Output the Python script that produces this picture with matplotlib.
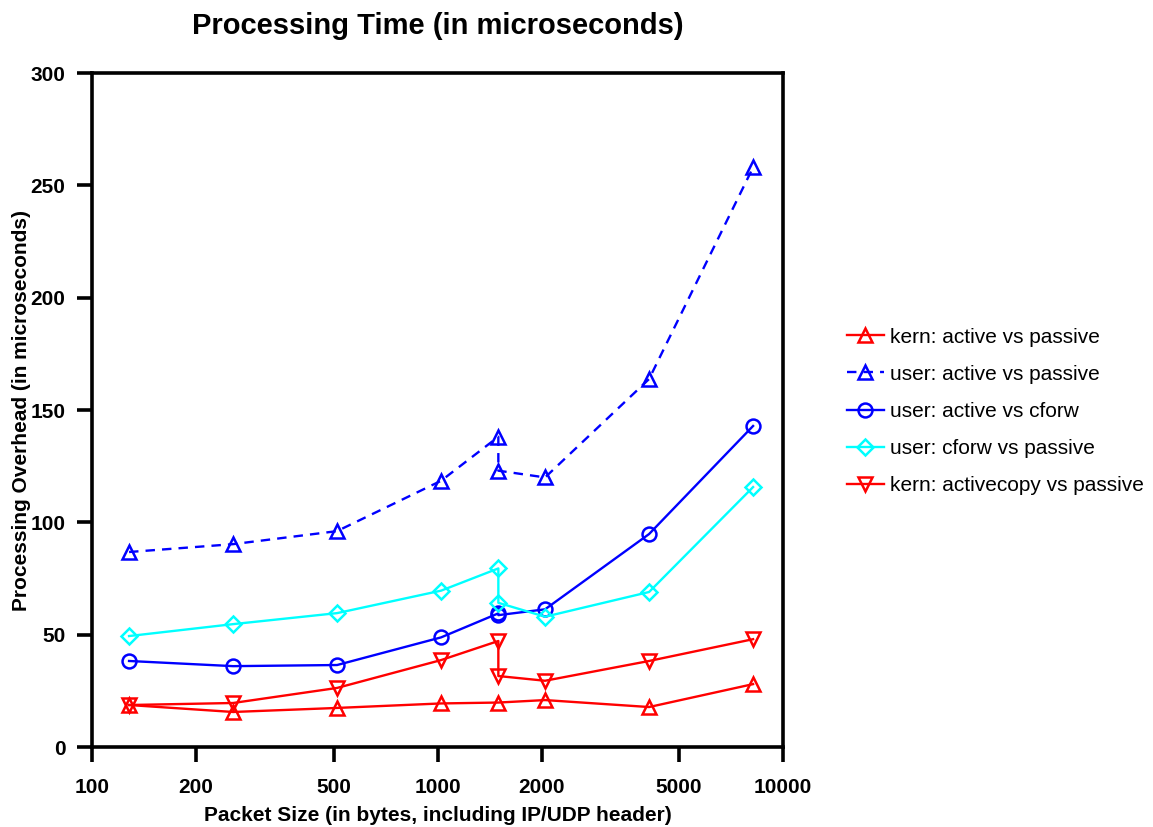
import matplotlib
matplotlib.use("Agg")
import matplotlib.pyplot as plt
from matplotlib.ticker import FixedLocator, FixedFormatter, NullLocator

plt.rcParams['font.family'] = ['Liberation Sans', 'DejaVu Sans']

# packet sizes (bytes); 1500 appears twice in each run
sizes = [128, 256, 512, 1024, 1500, 1500, 2048, 4096, 8192]
sizes_kern = [128, 256, 512, 1024, 1500, 2048, 4096, 8192]

kern_active_passive = [18.7, 15.6, 17.4, 19.4, 19.8, 20.9, 17.8, 28.0]
user_active_passive = [86.8, 90.3, 96.1, 118.5, 138.1, 123.0, 120.0, 163.8, 258.0]
user_active_cforw = [38.3, 36.0, 36.5, 48.8, 59.5, 58.7, 61.3, 94.8, 142.9]
user_cforw_passive = [49.4, 54.7, 59.6, 69.6, 79.5, 64.2, 58.0, 69.0, 115.7]
kern_activecopy_passive = [18.7, 19.6, 26.3, 38.7, 47.2, 31.6, 29.5, 38.3, 48.0]

xticks = [100, 200, 500, 1000, 2000, 5000, 10000]
yticks = [0, 50, 100, 150, 200, 250, 300]

fig = plt.figure(figsize=(11.53, 8.27), dpi=100)
ax = fig.add_axes([0.0798, 0.0967, 0.5993, 0.815])

mk = dict(markersize=10, markerfacecolor='none', markeredgewidth=1.8, linewidth=1.7)
ax.plot(sizes_kern, kern_active_passive, color='#ff0000', marker='^',
        label='kern: active vs passive', **mk)
ax.plot(sizes, user_active_passive, color='#0000ff', marker='^', linestyle=(0, (4, 3)),
        label='user: active vs passive', **mk)
ax.plot(sizes, user_active_cforw, color='#0000ff', marker='o',
        label='user: active vs cforw', **mk)
ax.plot(sizes, user_cforw_passive, color='#00ffff', marker='D',
        label='user: cforw vs passive', markersize=8.5, markerfacecolor='none',
        markeredgewidth=1.8, linewidth=1.7)
ax.plot(sizes, kern_activecopy_passive, color='#ff0000', marker='v',
        label='kern: activecopy vs passive', **mk)

ax.set_xscale('log')
ax.set_xlim(100, 10000)
ax.set_ylim(0, 300)
ax.xaxis.set_major_locator(FixedLocator(xticks))
ax.xaxis.set_major_formatter(FixedFormatter([str(t) for t in xticks]))
ax.xaxis.set_minor_locator(NullLocator())
ax.set_yticks(yticks)

for s in ax.spines.values():
    s.set_linewidth(2.6)
ax.tick_params(direction='out', length=11, width=2.6, labelsize=15, pad=8)
ax.tick_params(axis='x', pad=11)
for lbl in ax.get_xticklabels() + ax.get_yticklabels():
    lbl.set_fontweight('bold')

ax.set_xlabel('Packet Size (in bytes, including IP/UDP header)', fontsize=15,
              fontweight='bold', labelpad=7)
ax.set_ylabel('Processing Overhead (in microseconds)', fontsize=15,
              fontweight='bold', labelpad=0)
ax.set_title('Processing Time (in microseconds)', fontsize=21, fontweight='bold', pad=28)

ax.legend(loc='center left', bbox_to_anchor=(1.065, 0.498), frameon=False,
          fontsize=15, handlelength=1.8, labelspacing=0.87, handletextpad=0.3)

fig.savefig('out.png', dpi=100)
